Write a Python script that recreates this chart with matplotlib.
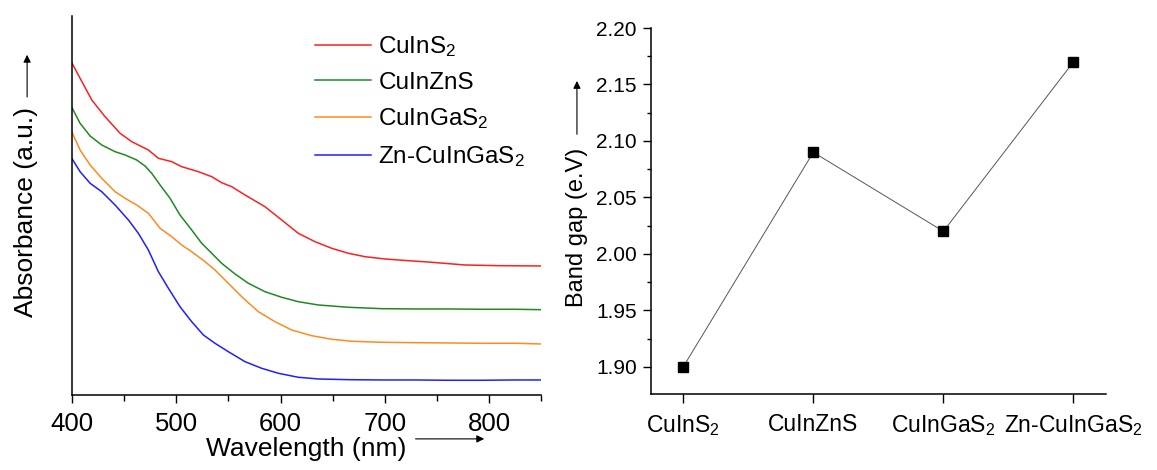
"""Absorption spectra and band gaps of the CuInS2 family."""

import matplotlib
matplotlib.use("Agg")
import matplotlib.pyplot as plt
from matplotlib.ticker import MultipleLocator

plt.rcParams['font.family'] = ['Liberation Sans', 'DejaVu Sans']
plt.rcParams['mathtext.default'] = 'regular'

# absorption spectra (arbitrary units)
wl_cuins2 = [400, 419.2, 431.9, 446.3, 457.5, 473.4, 483.0, 495.8, 505.3, 521.3, 534.1,
             543.6, 553.2, 566.0, 585.1, 601.1, 617.0, 633.0, 649.0, 664.9, 680.9, 700.0,
             712.8, 744.7, 776.6, 808.6, 850]
abs_cuins2 = [3.326, 2.953, 2.786, 2.620, 2.536, 2.453, 2.370, 2.336, 2.286, 2.236, 2.186,
              2.126, 2.086, 2.003, 1.886, 1.753, 1.620, 1.536, 1.470, 1.420, 1.386, 1.363,
              1.353, 1.330, 1.303, 1.296, 1.293]

wl_cuinzns = [400, 408.0, 417.6, 428.7, 441.5, 451.1, 462.2, 470.2, 476.6, 484.6, 494.2,
              503.7, 514.9, 524.5, 534.1, 543.6, 556.4, 569.2, 585.1, 601.1, 617.0, 636.2,
              664.9, 696.8, 728.8, 760.7, 792.6, 824.5, 850]
abs_cuinzns = [2.880, 2.720, 2.593, 2.503, 2.436, 2.403, 2.353, 2.293, 2.220, 2.103, 1.970,
               1.803, 1.653, 1.520, 1.420, 1.320, 1.213, 1.120, 1.036, 0.980, 0.936, 0.903,
               0.880, 0.866, 0.863, 0.863, 0.860, 0.860, 0.856]

wl_cuingas2 = [400, 408.0, 417.6, 428.7, 441.5, 451.1, 462.2, 473.4, 484.6, 495.8, 505.3,
               514.9, 527.7, 537.2, 550.0, 562.8, 578.7, 594.7, 610.7, 629.8, 649.0, 668.1,
               696.8, 728.8, 760.7, 792.6, 824.5, 850]
abs_cuingas2 = [2.636, 2.453, 2.303, 2.170, 2.036, 1.970, 1.903, 1.820, 1.670, 1.586, 1.503,
                1.436, 1.336, 1.253, 1.120, 0.986, 0.836, 0.736, 0.653, 0.596, 0.560, 0.540,
                0.530, 0.526, 0.523, 0.520, 0.520, 0.513]

wl_zn_cuingas2 = [400, 408.0, 417.6, 428.7, 441.5, 454.3, 463.8, 473.4, 483.0, 492.6, 503.7,
                  514.9, 526.1, 537.2, 550.0, 566.0, 581.9, 597.9, 617.0, 636.2, 664.9, 696.8,
                  728.8, 760.7, 792.6, 824.5, 850]
abs_zn_cuingas2 = [2.370, 2.236, 2.120, 2.036, 1.903, 1.753, 1.620, 1.453, 1.236, 1.070, 0.886,
                   0.736, 0.603, 0.520, 0.436, 0.336, 0.270, 0.220, 0.180, 0.163, 0.156, 0.153,
                   0.153, 0.150, 0.150, 0.153, 0.153]

# band gaps
samples = ['CuInS$_2$', 'CuInZnS', 'CuInGaS$_2$', 'Zn-CuInGaS$_2$']
band_gap = [1.90, 2.09, 2.02, 2.17]

spectra = [
    (wl_cuins2, abs_cuins2, '#ff1f1f', samples[0]),
    (wl_cuinzns, abs_cuinzns, '#1f8a1f', samples[1]),
    (wl_cuingas2, abs_cuingas2, '#ff8a1f', samples[2]),
    (wl_zn_cuingas2, abs_zn_cuingas2, '#1f1fff', samples[3]),
]

fig = plt.figure(figsize=(11.57, 4.70), dpi=100)
ax1 = fig.add_axes([0.062, 0.159, 0.406, 0.807])
ax2 = fig.add_axes([0.5624, 0.1617, 0.3935, 0.7787])

# ---- left: spectra ----
for wl, ab, color, name in spectra:
    ax1.plot(wl, ab, color=color, lw=1.1, label=name)

ax1.set_xlim(400, 850)
ax1.set_ylim(0, 3.793)
ax1.set_yticks([])
ax1.xaxis.set_major_locator(MultipleLocator(100))
ax1.xaxis.set_minor_locator(MultipleLocator(50))
ax1.tick_params(axis='x', which='major', length=6, width=1.0, labelsize=18.5, pad=6)
ax1.tick_params(axis='x', which='minor', length=4, width=1.0)
for s in ['top', 'right']:
    ax1.spines[s].set_visible(False)
for s in ['left', 'bottom']:
    ax1.spines[s].set_linewidth(1.1)

ax1.set_xlabel('Wavelength (nm)', fontsize=19, labelpad=1)
ax1.set_ylabel('Absorbance (a.u.)', fontsize=19, va='center')
ax1.yaxis.set_label_coords(-0.097, 0.483)

arrow = dict(arrowstyle='-|>', color='black', lw=0.8, mutation_scale=11)
ax1.annotate('', xy=(0.884, -0.115), xytext=(0.726, -0.115), xycoords='axes fraction',
             arrowprops=arrow, annotation_clip=False)
ax1.annotate('', xy=(-0.095, 0.905), xytext=(-0.095, 0.779), xycoords='axes fraction',
             arrowprops=arrow, annotation_clip=False)

ax1.legend(loc='upper left', bbox_to_anchor=(0.487, 0.99), frameon=False, fontsize=17.5,
           handlelength=2.3, handletextpad=0.3, labelspacing=0.52, borderaxespad=0.2)

# ---- right: band gap ----
pos = range(len(samples))
ax2.plot(pos, band_gap, color='#555555', lw=0.7, marker='s', markersize=7.7,
         markerfacecolor='black', markeredgecolor='black')
ax2.set_xlim(-0.25, 3.25)
ax2.set_ylim(1.876, 2.20)
ax2.set_xticks(list(pos))
ax2.set_xticklabels(samples)
ax2.yaxis.set_major_locator(MultipleLocator(0.05))
ax2.yaxis.set_minor_locator(MultipleLocator(0.025))
ax2.yaxis.set_major_formatter(matplotlib.ticker.FormatStrFormatter('%.2f'))
ax2.tick_params(axis='x', which='major', length=6.5, width=1.0, labelsize=16.5, pad=7)
ax2.tick_params(axis='y', which='major', length=6, width=1.0, labelsize=15, pad=4)
ax2.tick_params(axis='y', which='minor', length=3, width=1.0)
for s in ['top', 'right']:
    ax2.spines[s].set_visible(False)
for s in ['left', 'bottom']:
    ax2.spines[s].set_linewidth(1.1)

ax2.set_ylabel('Band gap (e.V)', fontsize=17, va='center')
ax2.yaxis.set_label_coords(-0.162, 0.455)
ax2.annotate('', xy=(-0.162, 0.863), xytext=(-0.162, 0.702), xycoords='axes fraction',
             arrowprops=arrow, annotation_clip=False)

fig.savefig('out.png', dpi=100)
